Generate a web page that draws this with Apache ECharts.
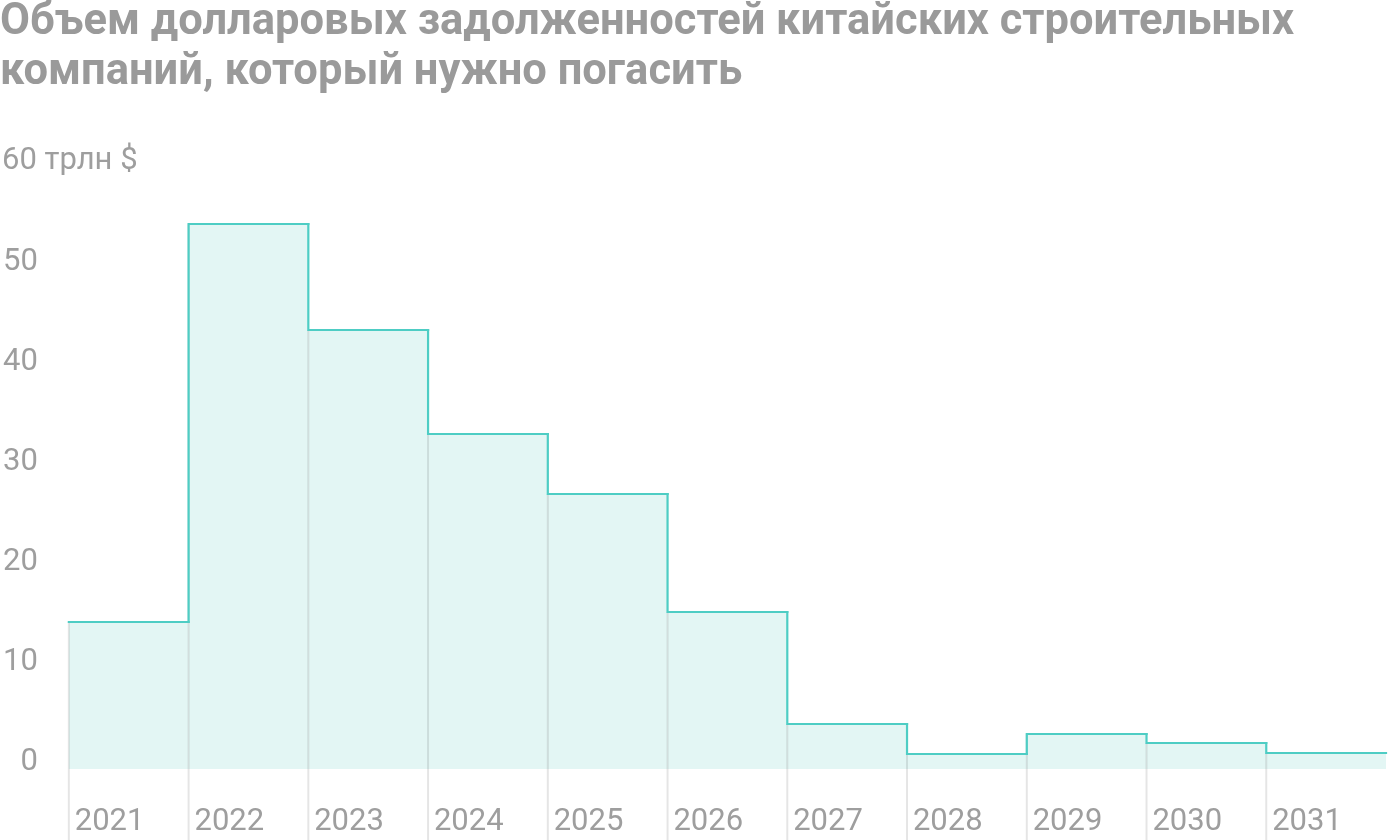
<!DOCTYPE html>
<html>
<head>
<meta charset="utf-8">
<script src="https://cdn.jsdelivr.net/npm/echarts@6/dist/echarts.min.js"></script>
<style>
  html, body { margin: 0; padding: 0; background: #ffffff; }
  #chart { width: 1400px; height: 840px; }
</style>
</head>
<body>
<div id="chart"></div>
<script>
const titleText = 'Объем долларовых задолженностей китайских строительных\nкомпаний, который нужно погасить';
const unitLabel = '60 трлн $';
const years = ['2021', '2022', '2023', '2024', '2025', '2026', '2027', '2028', '2029', '2030', '2031'];
const debt = [14.7, 54.5, 43.9, 33.5, 27.5, 15.7, 4.5, 1.5, 3.5, 2.6, 1.6];
const yTicks = [0, 10, 20, 30, 40, 50, 60];

const TEAL = '#4ecdc4';
const FILL = '#e3f6f4';
const GRAYLINE = 'rgba(0,0,0,0.1)';
const LABEL = '#9e9e9e';
const FONT = 'Roboto, "Noto Sans", sans-serif';

const seriesData = debt.map((v, i) => [i, v, i > 0 ? debt[i - 1] : NaN]);

const chart = echarts.init(document.getElementById('chart'), null, { renderer: 'canvas' });

chart.setOption({
  animation: false,
  backgroundColor: '#ffffff',
  title: {
    text: titleText,
    left: 0,
    top: -2,
    padding: 0,
    textStyle: {
      fontFamily: FONT,
      fontSize: 43.5,
      fontWeight: 'bold',
      color: '#9a9a9a',
      lineHeight: 50
    }
  },
  graphic: [{
    type: 'text',
    left: 2,
    top: 146,
    style: {
      text: unitLabel,
      fontFamily: FONT,
      fontSize: 31,
      fill: LABEL
    }
  }],
  grid: { left: 66, right: 14, top: 169, bottom: 71, containLabel: false },
  xAxis: {
    type: 'category',
    data: years,
    boundaryGap: true,
    axisLine: { show: false },
    axisTick: { show: false },
    splitLine: { show: false },
    axisLabel: {
      margin: 38,
      interval: 0,
      formatter: v => '{a|' + v + '}',
      rich: {
        a: { width: 108, align: 'left', fontSize: 31, fontFamily: FONT, color: LABEL }
      }
    }
  },
  yAxis: {
    type: 'value',
    min: 0,
    max: 60,
    interval: 10,
    axisLine: { show: false },
    axisTick: { show: false },
    splitLine: { show: false },
    axisLabel: {
      margin: 31,
      align: 'right',
      verticalAlign: 'bottom',
      lineHeight: 14,
      fontSize: 31,
      fontFamily: FONT,
      color: LABEL,
      formatter: v => (v === yTicks[yTicks.length - 1] ? '' : String(v))
    }
  },
  series: [{
    type: 'custom',
    clip: false,
    data: seriesData,
    encode: { x: 0, y: 1 },
    renderItem: function (params, api) {
      const i = api.value(0);
      const v = api.value(1);
      const prev = api.value(2);
      const bw = api.size([1, 0])[0];
      const top = api.coord([i, v]);
      const base = api.coord([i, 0]);
      const x0 = top[0] - bw / 2;
      const x1 = top[0] + bw / 2;
      const children = [
        {
          type: 'rect',
          z2: 0,
          shape: { x: x0, y: top[1], width: bw, height: base[1] - top[1] },
          style: { fill: FILL }
        },
        {
          type: 'line',
          z2: 1,
          shape: { x1: x0, y1: top[1], x2: x0, y2: api.getHeight() },
          style: { stroke: GRAYLINE, lineWidth: 2 }
        }
      ];
      const pts = [];
      if (!isNaN(prev)) {
        pts.push([x0, api.coord([i, prev])[1]]);
      }
      pts.push([x0, top[1]]);
      pts.push([x1, top[1]]);
      children.push({
        type: 'polyline',
        z2: 2,
        shape: { points: pts },
        style: { stroke: TEAL, lineWidth: 2.2, fill: null, lineJoin: 'miter', lineCap: 'square' }
      });
      return { type: 'group', children: children };
    }
  }]
});
</script>
</body>
</html>
